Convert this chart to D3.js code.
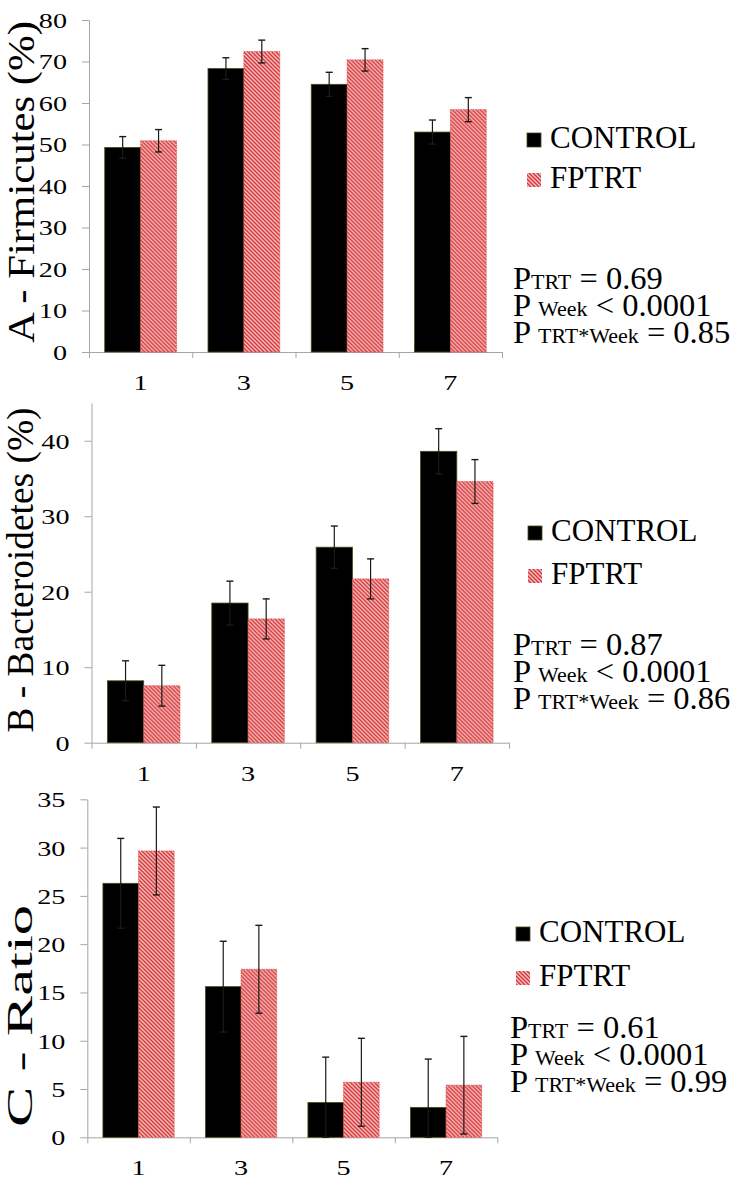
<!DOCTYPE html>
<html><head><meta charset="utf-8">
<script src="https://cdn.jsdelivr.net/npm/d3@7"></script>
<style>
body{margin:0;background:#fff}
svg{display:block}
</style>
</head><body><svg id="chart" width="748" height="1179"></svg>
<script>
// ---------- data ----------
const weeks = ["1","3","5","7"];
const groups = ["CONTROL","FPTRT"];
const firmicutesControl   = [49.3, 68.3, 64.5, 53.0];
const firmicutesControlSE = [2.6, 2.6, 2.9, 2.9];
const firmicutesFPTRT     = [50.9, 72.4, 70.4, 58.4];
const firmicutesFPTRTSE   = [2.7, 2.75, 2.7, 2.9];
const bacteroidetesControl   = [8.2, 18.5, 25.9, 38.6];
const bacteroidetesControlSE = [2.65, 2.9, 2.8, 3.0];
const bacteroidetesFPTRT     = [7.55, 16.4, 21.7, 34.6];
const bacteroidetesFPTRTSE   = [2.7, 2.65, 2.65, 2.9];
const ratioControl   = [26.3, 15.6, 3.6, 3.1];
const ratioControlSE = [4.65, 4.7, 4.7, 5.0];
const ratioFPTRT     = [29.65, 17.4, 5.7, 5.4];
const ratioFPTRTSE   = [4.55, 4.55, 4.55, 5.05];
const yTicksA = [0,10,20,30,40,50,60,70,80];
const yTicksB = [0,10,20,30,40];
const yTicksC = [0,5,10,15,20,25,30,35];
const yTitles = ["A - Firmicutes (%)", "B - Bacteroidetes (%)", "C - Ratio"];
const pTRT = ["0.69", "0.87", "0.61"];
const pWeek = ["0.0001", "0.0001", "0.0001"];
const pInteraction = ["0.85", "0.86", "0.99"];

// ---------- layout ----------
const FONT = "'Liberation Serif', 'Times New Roman', Times, serif";
const panels = [
  {ctl: firmicutesControl, ctlSE: firmicutesControlSE, trt: firmicutesFPTRT, trtSE: firmicutesFPTRTSE,
   ticks: yTicksA, yMax: 80, x0: 89, x1: 502, yBase: 352, yTop: 20,
   title: yTitles[0], tx: 34, ty: 182, tLen: 322, tFs: 37,
   legX: 527, legY1: 148, legY2: 188, pX: 513, pY: 289},
  {ctl: bacteroidetesControl, ctlSE: bacteroidetesControlSE, trt: bacteroidetesFPTRT, trtSE: bacteroidetesFPTRTSE,
   ticks: yTicksB, yMax: 45, x0: 91.5, x1: 509, yBase: 742.7, yTop: 403,
   title: yTitles[1], tx: 33, ty: 570, tLen: 325, tFs: 37,
   legX: 528, legY1: 541, legY2: 584, pX: 513, pY: 655},
  {ctl: ratioControl, ctlSE: ratioControlSE, trt: ratioFPTRT, trtSE: ratioFPTRTSE,
   ticks: yTicksC, yMax: 35, x0: 87.3, x1: 497.3, yBase: 1137.3, yTop: 799.3,
   title: yTitles[2], tx: 32, ty: 1016, tLen: 222, tFs: 36,
   legX: 516, legY1: 942, legY2: 986, pX: 510, pY: 1038}
];

const svg = d3.select("#chart").style("font-family", FONT);
const defs = svg.append("defs");
const pat = defs.append("pattern").attr("id","hatch")
  .attr("patternUnits","userSpaceOnUse").attr("width",4).attr("height",4);
pat.append("rect").attr("width",4).attr("height",4).attr("fill","#f6bebe");
pat.append("path").attr("d","M-1,-1L5,5M-1,3L1,5M3,-1L5,1")
  .attr("stroke","#d5383a").attr("stroke-width",1.4);

const AX = "#a6a6a6";
const SX = 1.28; // horizontal stretch of tick labels
const txt = sel => sel.style("font-family", FONT).attr("font-family", FONT).attr("fill", "#000");

panels.forEach((p, pi) => {
  const g = svg.append("g");
  const y = d3.scaleLinear().domain([0, p.yMax]).range([p.yBase, p.yTop]);
  const x = d3.scaleBand().domain(weeks).range([p.x0, p.x1]).paddingInner(0.305).paddingOuter(0.1525);
  const xs = d3.scaleBand().domain(groups).range([0, x.bandwidth()]);
  const xb = d3.scaleLinear().domain([0, weeks.length]).range([p.x0, p.x1]);

  // y axis
  const ya = g.append("g").attr("transform", `translate(${p.x0},0)`)
    .call(d3.axisLeft(y).tickValues(p.ticks).tickSize(7).tickSizeOuter(0));
  ya.attr("font-family", null);
  ya.select(".domain").attr("stroke", AX);
  ya.selectAll(".tick line").attr("stroke", AX);
  ya.selectAll(".tick text").call(txt).attr("font-size", 22)
    .attr("x", -22 / SX).attr("dy", "0.34em").attr("transform", `scale(${SX},1)`);

  // x axis (ticks at category boundaries)
  const xa = g.append("g").attr("transform", `translate(0,${p.yBase})`)
    .call(d3.axisBottom(xb).tickValues(d3.range(weeks.length + 1)).tickSize(6).tickSizeOuter(0).tickFormat(""));
  xa.select(".domain").attr("stroke", AX);
  xa.selectAll(".tick line").attr("stroke", AX);
  // x labels
  g.selectAll(".xl").data(weeks).join("text").call(txt)
    .attr("font-size", 22).attr("text-anchor", "middle")
    .attr("transform", d => `translate(${x(d) + x.bandwidth()/2},${p.yBase + 38}) scale(${SX},1)`)
    .text(d => d);

  // bars
  const rows = weeks.map((w, i) => ({w, vals: [
    {g: "CONTROL", v: p.ctl[i], se: p.ctlSE[i]},
    {g: "FPTRT", v: p.trt[i], se: p.trtSE[i]}]}));
  const bg = g.selectAll(".bg").data(rows).join("g")
    .attr("transform", d => `translate(${x(d.w)},0)`);
  bg.selectAll("rect").data(d => d.vals).join("rect")
    .attr("x", d => xs(d.g)).attr("width", xs.bandwidth())
    .attr("y", d => y(d.v)).attr("height", d => y(0) - y(d.v))
    .attr("fill", d => d.g === "CONTROL" ? "#000" : "url(#hatch)")
    .attr("stroke", d => d.g === "CONTROL" ? "#4a4a1a" : "#d84a4a")
    .attr("stroke-width", 0.8)
    .attr("stroke-dasharray", d => d.g === "CONTROL" ? null : "1.5,1");
  // error bars
  const eb = bg.selectAll(".eb").data(d => d.vals).join("g");
  const cx = d => xs(d.g) + xs.bandwidth()/2;
  eb.append("line")
    .attr("x1", cx).attr("x2", cx)
    .attr("y1", d => y(d.v + d.se)).attr("y2", d => y(Math.max(0, d.v - d.se)))
    .attr("stroke", "#1a1a1a").attr("stroke-width", 1.2);
  eb.append("line")
    .attr("x1", d => cx(d) - 3.5).attr("x2", d => cx(d) + 3.5)
    .attr("y1", d => y(d.v + d.se)).attr("y2", d => y(d.v + d.se))
    .attr("stroke", "#1a1a1a").attr("stroke-width", 1.4);
  eb.append("line")
    .attr("x1", d => cx(d) - 3.5).attr("x2", d => cx(d) + 3.5)
    .attr("y1", d => y(Math.max(0, d.v - d.se))).attr("y2", d => y(Math.max(0, d.v - d.se)))
    .attr("stroke", "#1a1a1a").attr("stroke-width", 1.4);

  // y title
  const t = g.append("text").call(txt).attr("font-size", p.tFs).attr("text-anchor", "middle")
    .attr("transform", `translate(${p.tx},${p.ty}) rotate(-90)`).text(p.title);
  if (p.tLen) t.attr("textLength", p.tLen).attr("lengthAdjust", "spacingAndGlyphs");

  // legend
  const leg = g.append("g");
  [[groups[0], p.legY1, "#000"], [groups[1], p.legY2, "url(#hatch)"]].forEach(([name, by, fill]) => {
    leg.append("rect").attr("x", p.legX).attr("y", by - 15).attr("width", 14).attr("height", 14)
      .attr("fill", fill).attr("stroke", fill === "#000" ? "#4a4a1a" : "none").attr("stroke-width", 0.8);
    leg.append("text").call(txt).attr("font-size", 31)
      .attr("transform", `translate(${p.legX + 23},${by}) scale(1.0001,1)`).text(name);
  });

  // p-values
  const big = 32.5, small = 22, lh = 27;
  const lines = [
    [["P", big], ["TRT", small], [" = " + pTRT[pi], big]],
    [["P ", big], ["Week", small], [" < " + pWeek[pi], big]],
    [["P ", big], ["TRT*Week", small], [" = " + pInteraction[pi], big]]
  ];
  lines.forEach((parts, li) => {
    const tl = g.append("text").call(txt).attr("font-size", big)
      .attr("transform", `translate(${p.pX},${p.pY + li*lh}) scale(1.0001,1)`);
    parts.forEach(([s, fs]) => tl.append("tspan").attr("font-size", fs).text(s));
  });
});
</script>
</body></html>
